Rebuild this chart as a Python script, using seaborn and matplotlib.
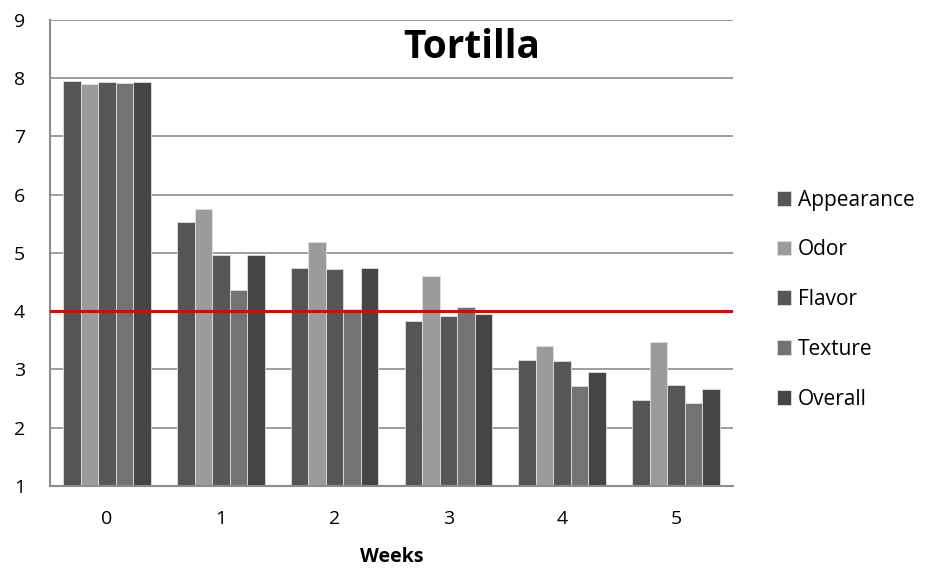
import pandas as pd
import matplotlib
matplotlib.use("Agg")
import matplotlib.pyplot as plt
import seaborn as sns

# Sensory scores for tortilla over storage weeks
weeks = [0, 1, 2, 3, 4, 5]
attributes = ["Appearance", "Odor", "Flavor", "Texture", "Overall"]
appearance = [7.95, 5.54, 4.75, 3.83, 3.16, 2.48]
odor = [7.90, 5.75, 5.19, 4.61, 3.40, 3.47]
flavor = [7.94, 4.96, 4.73, 3.92, 3.15, 2.73]
texture = [7.92, 4.36, 4.03, 4.07, 2.72, 2.43]
overall = [7.93, 4.97, 4.75, 3.96, 2.95, 2.66]
threshold = 4.0

colors = ["#555555", "#9b9b9b", "#575757", "#737373", "#454545"]

df = pd.DataFrame(
    {
        "Weeks": weeks * 5,
        "Attribute": sum([[a] * len(weeks) for a in attributes], []),
        "Score": appearance + odor + flavor + texture + overall,
    }
)

sns.set_theme(style="white")
plt.rcParams["font.family"] = ["Open Sans", "DejaVu Sans"]
plt.rcParams["text.color"] = "black"

fig = plt.figure(figsize=(9.3, 5.71), dpi=100)
ax = fig.add_axes([0.054, 0.149, 0.734, 0.816])

sns.barplot(
    data=df,
    x="Weeks",
    y="Score",
    hue="Attribute",
    palette=colors,
    width=0.77,
    gap=0,
    edgecolor="#e0e0e0",
    linewidth=0.6,
    errorbar=None,
    ax=ax,
    zorder=2,
)

ax.axhline(threshold, color="#ee0000", linewidth=2.2, zorder=3)

ax.set_ylim(1, 9)
ax.set_yticks(range(1, 10))
ax.yaxis.grid(True, color="#8c8c8c", linewidth=1.2, zorder=0)
ax.set_axisbelow(True)
for side in ["top", "right"]:
    ax.spines[side].set_visible(False)
for side in ["left", "bottom"]:
    ax.spines[side].set_color("#8c8c8c")
    ax.spines[side].set_linewidth(1.5)
ax.tick_params(axis="both", length=0, labelsize=14, labelcolor="black")
ax.tick_params(axis="x", pad=17)
ax.tick_params(axis="y", pad=18)

ax.set_ylabel("")
ax.set_xlabel("Weeks", fontsize=14, fontweight="bold", labelpad=14, color="black")
ax.text(0.618, 0.94, "Tortilla", transform=ax.transAxes, ha="center", va="center",
        fontsize=28, fontweight="bold", color="black")

leg = ax.legend(
    loc="center left",
    bbox_to_anchor=(1.037, 0.40),
    frameon=False,
    fontsize=15,
    handlelength=0.7,
    handleheight=0.7,
    handletextpad=0.3,
    labelspacing=1.38,
)
for t in leg.get_texts():
    t.set_color("black")

fig.savefig("out.png", dpi=100)
plt.close()
